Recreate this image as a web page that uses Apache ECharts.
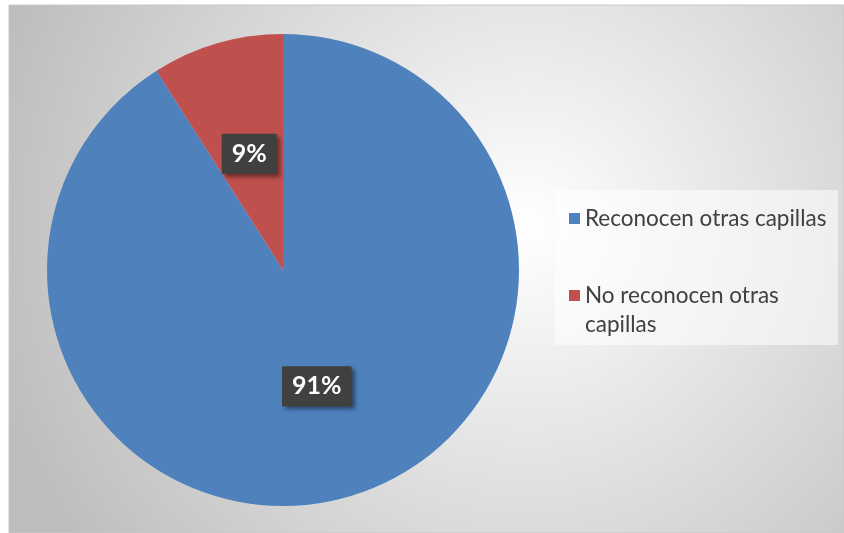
<!DOCTYPE html>
<html>
<head>
<meta charset="utf-8">
<script src="https://cdn.jsdelivr.net/npm/echarts@6/dist/echarts.min.js"></script>
<style>
html,body{margin:0;padding:0;background:#fff;}
#chart{width:844px;height:533px;}
</style>
</head>
<body>
<div id="chart"></div>
<script>
var categories = ['Reconocen otras capillas', 'No reconocen otras capillas'];
var values = [91, 9];
var colors = ['#4F81BD', '#C0504D'];

var legendFontSize = 22.5;
var legendWidth = 252;
var measureCtx = document.createElement('canvas').getContext('2d');
measureCtx.font = legendFontSize + 'px Lato';

var chart = echarts.init(document.getElementById('chart'), null, {renderer: 'canvas'});
var seriesData = categories.map(function (name, i) {
  return {name: name, value: values[i], itemStyle: {color: colors[i]}};
});
var option = {
  animation: false,
  graphic: [
    {
      type: 'rect', z: -10, silent: true,
      shape: {x: 9, y: 5, width: 835, height: 528},
      style: {
        fill: {
          type: 'radial', x: 0.62, y: 0.42, r: 1.05,
          colorStops: [{offset: 0, color: '#ffffff'}, {offset: 1, color: '#bdbdbd'}]
        },
        stroke: '#c8c8c8', lineWidth: 1
      }
    },
    {
      type: 'rect', z: -5, silent: true,
      shape: {x: 555, y: 190, width: 283, height: 155},
      style: {fill: 'rgba(255,255,255,0.55)'}
    }
  ],
  legend: {
    orient: 'vertical',
    left: 569,
    top: 204,
    padding: 0,
    icon: 'rect',
    itemWidth: 11,
    itemHeight: 11,
    itemGap: 19,
    selectedMode: false,
    formatter: function (name) {
      // keep the swatch aligned with the first line of a wrapped label
      return measureCtx.measureText(name).width > legendWidth ? '\n' + name : name;
    },
    textStyle: {
      fontFamily: 'Lato', fontSize: legendFontSize, color: '#404040',
      lineHeight: 29, width: legendWidth, overflow: 'break'
    },
    data: categories
  },
  series: [{
    type: 'pie',
    center: [283, 270],
    radius: 236,
    startAngle: 90,
    clockwise: true,
    silent: true,
    itemStyle: {borderWidth: 0},
    label: {
      show: true,
      position: 'inside',
      formatter: '{c}%',
      color: '#ffffff',
      fontFamily: 'Lato',
      fontWeight: 'bold',
      fontSize: 25,
      backgroundColor: '#404040',
      padding: [8, 10, 7, 10],
      shadowColor: 'rgba(0,0,0,0.45)',
      shadowBlur: 4,
      shadowOffsetX: 3,
      shadowOffsetY: 3
    },
    labelLine: {show: false},
    data: seriesData
  }]
};
chart.setOption(option);
</script>
</body>
</html>
